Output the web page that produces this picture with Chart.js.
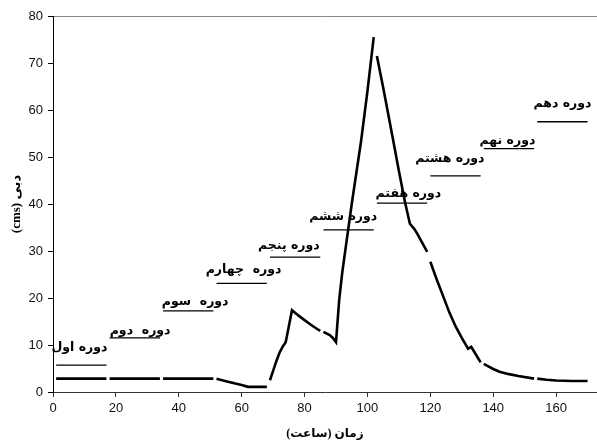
<!DOCTYPE html>
<html>
<head>
<meta charset="utf-8">
<script src="https://cdn.jsdelivr.net/npm/chart.js@4"></script>
<style>
    body { margin: 0; background: #fff; }
    #wrap { width: 597px; height: 441px; }
</style>
</head>
<body>
<div id="wrap"><canvas id="flowChart" width="597" height="441"></canvas></div>
<script>
// hydrograph (hour, cms)
const hours = [1, 17, 18, 34, 35, 51,
    52, 55, 58, 60, 62, 68,
    69, 70, 71, 72, 73, 74, 75, 76, 78, 80, 82, 84, 85,
    86, 88, 89, 90, 91, 92, 95, 98, 100, 102,
    103, 105, 108, 110, 112, 113.5, 115, 116, 119,
    120, 122, 124, 126, 128, 130, 132, 133, 134, 136,
    137, 138, 140, 142, 145, 148, 153,
    154, 157, 160, 165, 170];
const flow = [2.85, 2.85, 2.85, 2.85, 2.85, 2.85,
    2.8, 2.3, 1.8, 1.5, 1.1, 1.1,
    2.5, 4.5, 6.5, 8.3, 9.6, 10.6, 14, 17.4, 16.3, 15.3, 14.3, 13.4, 13.0,
    12.8, 12.1, 11.5, 10.6, 19.5, 25.5, 40, 53.5, 64, 75.5,
    71.5, 64.8, 54.2, 47, 40.2, 35.8, 34.6, 33.5, 29.8,
    27.7, 24, 20.5, 17, 14, 11.5, 9.2, 9.6, 8.5, 6.3,
    6.0, 5.6, 4.9, 4.3, 3.8, 3.4, 2.85,
    2.85, 2.6, 2.45, 2.35, 2.35];

// ten 17-hour periods
const periodStart = [1, 18, 35, 52, 69, 86, 103, 120, 137, 154];
const periodEnd = [17, 34, 51, 68, 85, 102, 119, 136, 153, 170];
const periodLevel = [5.7, 11.5, 17.25, 23.1, 28.7, 34.5, 40.2, 46, 51.8, 57.5];
const periodNames = ['دوره اول', 'دوره  دوم', 'دوره  سوم', 'دوره  چهارم', 'دوره پنجم',
    'دوره ششم', 'دوره هفتم', 'دوره هشتم', 'دوره نهم', 'دوره دهم'];
const labelHour = [8.4, 27.7, 45.2, 60.6, 75.0, 92.3, 113, 126.2, 144.5, 162];
const labelFlow = [9.4, 13.0, 19.1, 26.0, 31.1, 37.2, 42.1, 49.6, 53.5, 61.3];

const xTicks = [0, 20, 40, 60, 80, 100, 120, 140, 160];
const yTitle = 'دبی (cms)';
const xTitle = 'زمان (ساعت)';

const datasets = [];
periodStart.forEach((start, i) => {
    const pts = [];
    hours.forEach((h, j) => {
        if (h >= start && h <= periodEnd[i]) pts.push({ x: h, y: flow[j] });
    });
    datasets.push({
        data: pts,
        borderColor: '#000',
        borderWidth: 2.6,
        pointRadius: 0,
        tension: 0
    });
});
periodStart.forEach((start, i) => {
    datasets.push({
        data: [{ x: start, y: periodLevel[i] }, { x: periodEnd[i], y: periodLevel[i] }],
        borderColor: '#000',
        borderWidth: 1.3,
        pointRadius: 0
    });
});

const textPlugin = {
    id: 'texts',
    afterDraw(chart) {
        const ctx = chart.ctx;
        const xs = chart.scales.x, ys = chart.scales.y;
        ctx.save();
        ctx.direction = 'rtl';
        ctx.fillStyle = '#000';
        ctx.textAlign = 'center';
        ctx.textBaseline = 'middle';
        ctx.font = 'bold 12.5px "DejaVu Sans"';
        periodNames.forEach((name, i) => {
            ctx.fillText(name, xs.getPixelForValue(labelHour[i]), ys.getPixelForValue(labelFlow[i]));
        });

        ctx.font = 'bold 12px "Liberation Serif", "DejaVu Sans"';
        ctx.fillText(xTitle, (chart.chartArea.left + chart.chartArea.right) / 2, 434);

        ctx.translate(17, (chart.chartArea.top + chart.chartArea.bottom) / 2);
        ctx.rotate(-Math.PI / 2);
        ctx.font = 'bold 13px "Liberation Serif", "DejaVu Sans"';
        ctx.fillText(yTitle, 0, 0);
        ctx.restore();
    }
};

const chart = new Chart(document.getElementById('flowChart'), {
    type: 'line',
    data: { datasets: datasets },
    plugins: [textPlugin],
    options: {
        responsive: false,
        animation: false,
        layout: { padding: { top: 16, right: 0, left: 0, bottom: 0 } },
        plugins: { legend: { display: false }, tooltip: { enabled: false } },
        scales: {
            x: {
                type: 'linear',
                min: 0,
                max: 173,
                afterBuildTicks: s => { s.ticks = xTicks.map(v => ({ value: v })); },
                afterFit: s => { s.height = 49; },
                border: { color: '#333', width: 1 },
                grid: { drawOnChartArea: false, tickLength: 5, tickColor: '#333' },
                ticks: {
                    color: '#111',
                    padding: 4,
                    maxRotation: 0,
                    font: { family: '"Liberation Sans", Arial', size: 13 }
                }
            },
            y: {
                min: 0,
                max: 80,
                ticks: {
                    stepSize: 10,
                    color: '#111',
                    padding: 5,
                    font: { family: '"Liberation Sans", Arial', size: 13 }
                },
                afterFit: s => { s.width = 53; },
                border: { color: '#000', width: 1 },
                grid: {
                    drawOnChartArea: true,
                    tickLength: 5,
                    tickColor: '#000',
                    color: c => (c.tick && c.tick.value === 80) ? '#888' : 'rgba(0,0,0,0)'
                }
            }
        }
    }
});
</script>
</body>
</html>
